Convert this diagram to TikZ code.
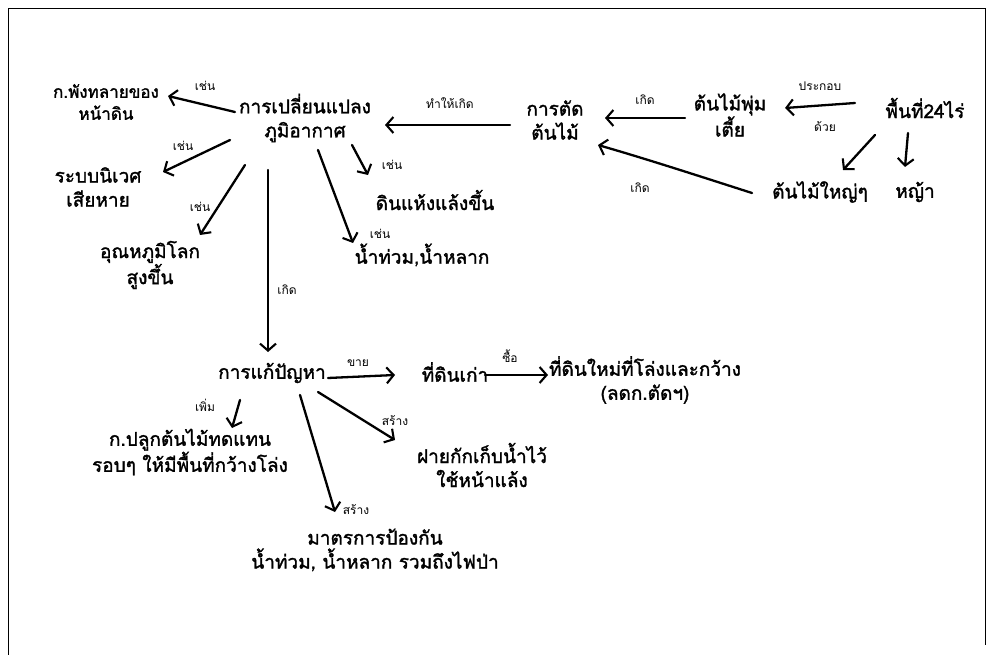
\documentclass[tikz,border=0pt]{standalone}
\usepackage{fontspec}
\newfontfamily\thaifont[Script=Thai]{Loma}
\newfontfamily\thaiheavy[Script=Thai,FakeBold=1.6]{Loma}
\usetikzlibrary{arrows.meta,calc}
\begin{document}
\begin{tikzpicture}[x=1pt,y=-1pt,
  idea/.style={font=\thaiheavy\fontsize{19}{24}\selectfont, align=center, inner sep=1pt},
  tag/.style={font=\thaifont\fontsize{12}{14}\selectfont, inner sep=1pt},
  link/.style={line width=2.3pt, line cap=round,
    -{Straight Barb[length=7pt,width=16pt,line width=2.1pt]}},
]
\useasboundingbox (0,0) rectangle (999,655);
% page frame
\draw[line width=0.8pt] (8,655) -- (8,8) -- (985,8) -- (985,645);

% nodes
\node[idea, font=\thaiheavy\fontsize{17}{22}\selectfont] (erosion) at (106,102) {ก.พังทลายของ\\หน้าดิน};
\node[idea] (climate) at (305,118) {การเปลี่ยนแปลง\\ภูมิอากาศ};
\node[idea] (cut) at (555,120) {การตัด\\ต้นไม้};
\node[idea] (shrub) at (730,115) {ต้นไม้พุ่ม\\เตี้ย};
\node[idea] (area) at (925,108) {พื้นที่24ไร่};
\node[idea] (bigtree) at (820,192) {ต้นไม้ใหญ่ๆ};
\node[idea] (grass) at (915,192) {หญ้า};
\node[idea] (eco) at (98,187) {ระบบนิเวศ\\เสียหาย};
\node[idea] (temp) at (150,265) {อุณหภูมิโลก\\สูงขึ้น};
\node[idea] (dry) at (435,200) {ดินแห้งแล้งขึ้น};
\node[idea] (flood) at (422,255) {น้ำท่วม,น้ำหลาก};
\node[idea] (solve) at (272,373) {การแก้ปัญหา};
\node[idea] (oldland) at (455,372) {ที่ดินเก่า};
\node[idea] (newland) at (645,380) {ที่ดินใหม่ที่โล่งและกว้าง\\(ลดก.ตัดฯ)};
\node[idea] (plant) at (190,452) {ก.ปลูกต้นไม้ทดแทน\\รอบๆ ให้มีพื้นที่กว้างโล่ง};
\node[idea] (weir) at (482,465) {ฝายกักเก็บน้ำไว้\\ใช้หน้าแล้ง};
\node[idea] (protect) at (375,550) {มาตรการป้องกัน\\น้ำท่วม, น้ำหลาก รวมถึงไฟป่า};

% effects of climate change
\draw[link] ($(climate)+(-70,-6)$) -- ($(erosion)+(62,-6)$);
\draw[link] ($(climate)+(-75,22)$) -- ($(eco)+(65,-15)$);
\draw[link] ($(climate)+(-60,47)$) -- ($(temp)+(50,-30)$);
\draw[link] ($(climate)+(47,27)$) -- ($(dry)+(-67,-25)$);
\draw[link] ($(climate)+(13,32)$) -- ($(flood)+(-69,-12)$);
\draw[link] ($(climate)+(-37,52)$) -- ($(solve)+(-4,-21)$);
\node[tag] at (205,86) {เช่น};
\node[tag] at (183,146) {เช่น};
\node[tag] at (200,207) {เช่น};
\node[tag] at (392,165) {เช่น};
\node[tag] at (380,234) {เช่น};
\node[tag] at (287,290) {เกิด};

% causes of tree cutting
\draw[link] ($(cut)+(-45,5)$) -- ($(climate)+(80,7)$);
\node[tag] at (450,103) {ทำให้เกิด};
\draw[link] ($(shrub)+(-45,3)$) -- ($(cut)+(50,-2)$);
\node[tag] at (645,100) {เกิด};
\draw[link] ($(bigtree)+(-68,1)$) .. controls (705,178) and (650,160) .. ($(cut)+(43,25)$);
\node[tag] at (640,188) {เกิด};

% what the land holds
\draw[link] ($(area)+(-70,-5)$) -- ($(shrub)+(55,-7)$);
\node[tag] at (820,86) {ประกอบ};
\node[tag] at (825,127) {ด้วย};
\draw[link] ($(area)+(-50,27)$) -- ($(bigtree)+(23,-22)$);
\draw[link] ($(area)+(-17,25)$) -- ($(grass)+(-10,-25)$);

% solutions
\draw[link] ($(solve)+(56,5)$) -- ($(oldland)+(-60,3)$);
\node[tag] at (358,363) {ขาย};
\draw[link] ($(oldland)+(30,3)$) -- ($(newland)+(-97,-5)$);
\node[tag] at (510,356) {ซื้อ};
\draw[link] ($(solve)+(-32,27)$) -- ($(plant)+(42,-24)$);
\node[tag] at (205,405) {เพิ่ม};
\draw[link] ($(solve)+(46,19)$) -- ($(weir)+(-87,-25)$);
\node[tag] at (395,421) {สร้าง};
\draw[link] ($(solve)+(28,22)$) -- ($(protect)+(-40,-38)$);
\node[tag] at (356,510) {สร้าง};
\end{tikzpicture}
\end{document}
